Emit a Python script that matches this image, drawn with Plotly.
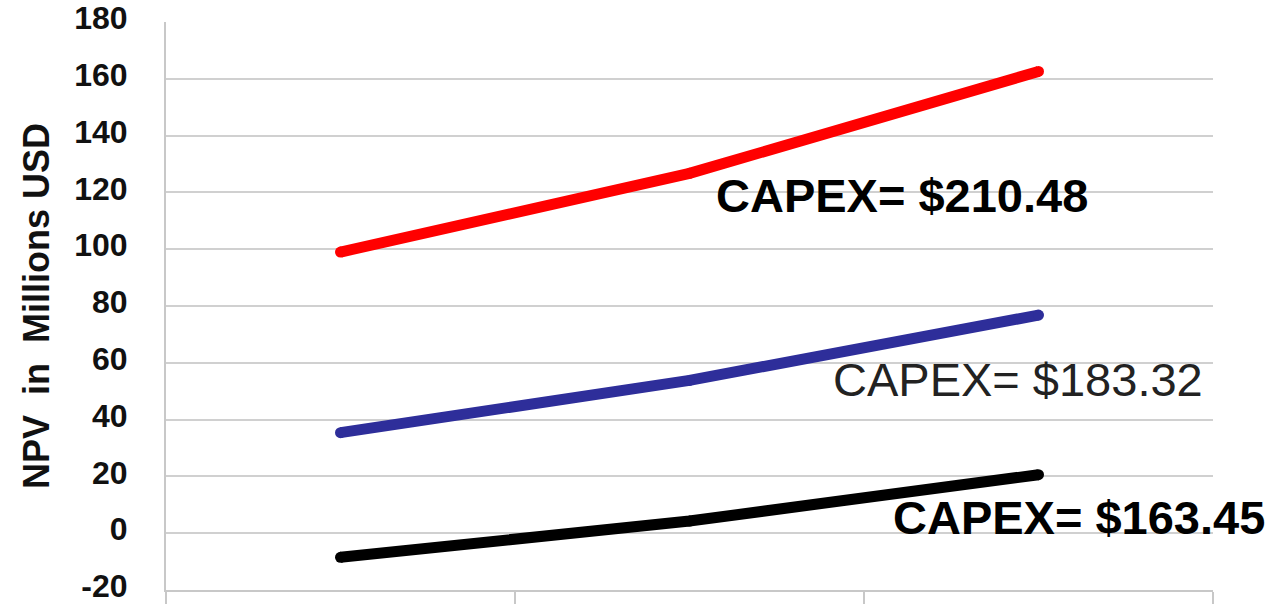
import plotly.graph_objects as go

categories = ["Case 1", "Case 2", "Case 3"]
npv_capex_210 = [99.0, 126.7, 162.6]
npv_capex_183 = [35.4, 53.8, 76.8]
npv_capex_163 = [-8.5, 4.3, 20.6]

series_labels = ["CAPEX= $210.48", "CAPEX= $183.32", "CAPEX= $163.45"]
y_ticks = [-20, 0, 20, 40, 60, 80, 100, 120, 140, 160, 180]
y_tick_text = ["-20", "0", "20", "40", "60", "80", "100", "120", "140", "160", "180"]

FONT = "Liberation Sans, Arial, sans-serif"
LW = 11

fig = go.Figure()
for vals, color in [(npv_capex_210, "#FF0000"), (npv_capex_183, "#2E2E9A"), (npv_capex_163, "#000000")]:
    fig.add_trace(go.Scatter(x=categories, y=vals, mode="lines+markers",
                             line=dict(color=color, width=LW),
                             marker=dict(color=color, size=LW, line=dict(width=0)),
                             showlegend=False))

# labels
fig.add_annotation(x=0.523, xref="paper", y=119, yref="y", xanchor="left", yanchor="middle",
                   text=series_labels[0], showarrow=False,
                   font=dict(family=FONT, size=47, color="#000000", weight="bold"))
fig.add_annotation(x=0.635, xref="paper", y=54, yref="y", xanchor="left", yanchor="middle",
                   text=series_labels[1], showarrow=False,
                   font=dict(family=FONT, size=47, color="#222222"))
fig.add_annotation(x=0.692, xref="paper", y=5.5, yref="y", xanchor="left", yanchor="middle",
                   text=series_labels[2], showarrow=False,
                   font=dict(family=FONT, size=47, color="#000000", weight="bold"))

fig.update_layout(
    width=1287, height=604,
    margin=dict(l=166, r=74, t=22, b=14),
    paper_bgcolor="white", plot_bgcolor="white",
    font=dict(family=FONT),
)
fig.update_xaxes(
    type="category", tickson="boundaries", showticklabels=False,
    ticks="outside", ticklen=20, tickwidth=2, tickcolor="#C8C8C8",
    showgrid=False, showline=True, linecolor="#C8C8C8", linewidth=2,
    range=[-0.5, 2.5], automargin=False,
)
fig.update_yaxes(
    range=[-20, 180], tickvals=y_ticks, ticktext=y_tick_text,
    showgrid=True, gridcolor="#D0D0D0", gridwidth=2,
    showline=True, linecolor="#C8C8C8", linewidth=2, zeroline=False,
    tickfont=dict(family=FONT, size=32, color="#111111", weight="bold"),
    ticklabelstandoff=30, ticklabelshift=-4, automargin=False, ticklabeloverflow="allow",
    title=dict(text="NPV  in  Millions USD",
               font=dict(family=FONT, size=36, color="#111111", weight="bold"),
               standoff=14),
)

fig.write_html("out.html")
